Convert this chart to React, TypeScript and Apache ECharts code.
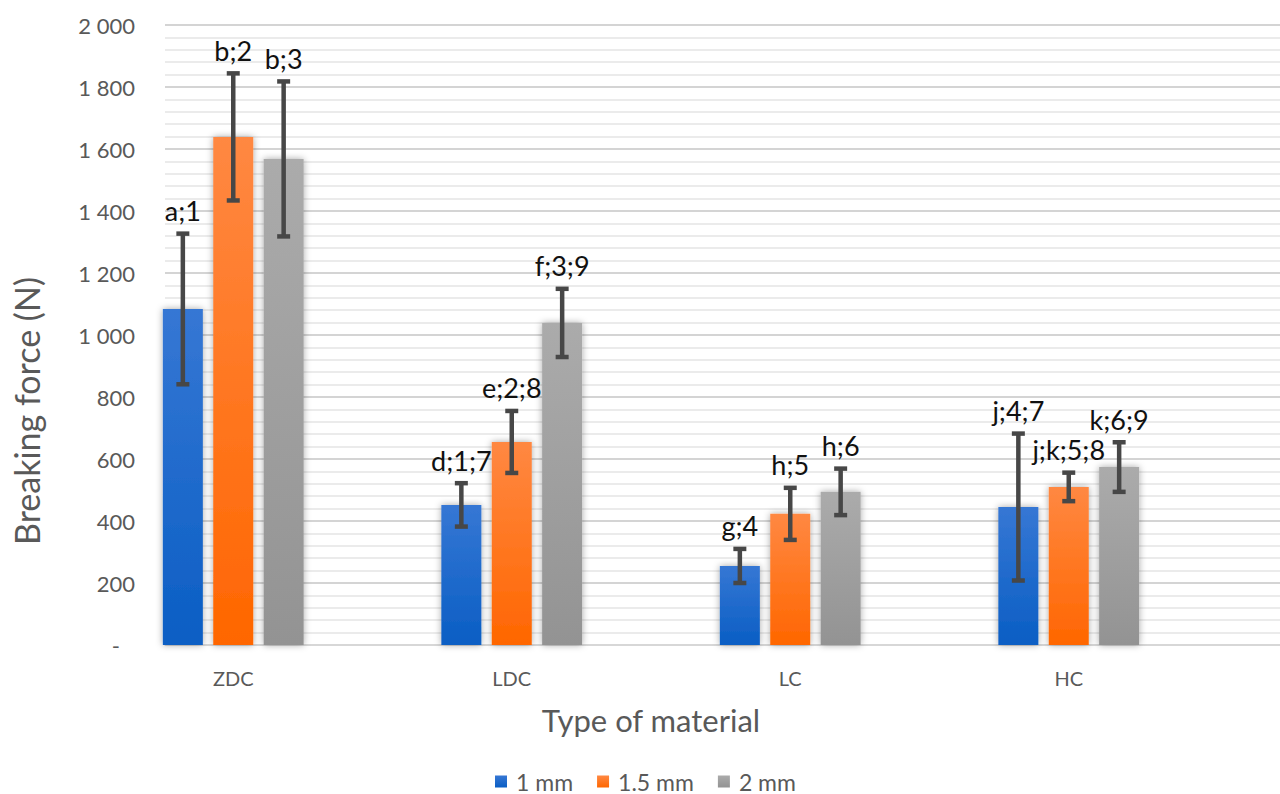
import React, { useEffect, useRef } from 'react';
import * as echarts from 'echarts';

const categories = ['ZDC', 'LDC', 'LC', 'HC'];
const seriesNames = ['1 mm', '1.5 mm', '2 mm'];
const mean1 = [1084, 452, 255, 445];
const err1 = [243, 70, 55, 237];
const lab1 = ['a;1', 'd;1;7', 'g;4', 'j;4;7'];
const mean15 = [1639, 655, 423, 510];
const err15 = [205, 100, 84, 46];
const lab15 = ['b;2', 'e;2;8', 'h;5', 'j;k;5;8'];
const mean2 = [1568, 1039, 494, 574];
const err2 = [250, 110, 75, 80];
const lab2 = ['b;3', 'f;3;9', 'h;6', 'k;6;9'];
const yMin = 0;
const yMax = 2000;
const yInterval = 200;
const yTitle = 'Breaking force (N)';
const xTitle = 'Type of material';

const FONT = 'Lato, "Open Sans", sans-serif';

const grad = (top: string, bottom: string) =>
  new echarts.graphic.LinearGradient(0, 0, 0, 1, [
    { offset: 0, color: top },
    { offset: 1, color: bottom },
  ]);

const BAR_W = 40;
const GAP = 10.4;

function errSeries(name: string, means: number[], errs: number[], labels: string[], offset: number) {
  return {
    type: 'custom',
    name: name + ' err',
    xAxisIndex: 1,
    yAxisIndex: 1,
    z: 10,
    silent: true,
    data: means.map((m, i) => [i, m, errs[i]]),
    renderItem: (params: any, api: any) => {
      const i = api.value(0);
      const m = api.value(1);
      const e = api.value(2);
      const lab = labels[i];
      const x = api.coord([i, m])[0] + offset;
      const yT = api.coord([i, m + e])[1];
      const yB = api.coord([i, m - e])[1];
      const st = { stroke: '#474747', lineWidth: 4.5 };
      return {
        type: 'group',
        children: [
          { type: 'line', shape: { x1: x, y1: yT, x2: x, y2: yB }, style: st },
          { type: 'line', shape: { x1: x - 6.5, y1: yT, x2: x + 6.5, y2: yT }, style: st },
          { type: 'line', shape: { x1: x - 6.5, y1: yB, x2: x + 6.5, y2: yB }, style: st },
          {
            type: 'text',
            style: {
              text: lab,
              x: x,
              y: yT - 23,
              align: 'center',
              verticalAlign: 'middle',
              fill: '#111',
              font: `27px ${FONT}`,
            },
          },
        ],
      };
    },
  };
}

export default function App() {
  const ref = useRef<HTMLDivElement>(null);
  useEffect(() => {
    if (!ref.current) return;
    const chart = echarts.init(ref.current, undefined, { renderer: 'svg' });
    const barBase = {
      type: 'bar',
      xAxisIndex: 1,
      yAxisIndex: 1,
      barWidth: BAR_W,
      barGap: (GAP / BAR_W) * 100 + '%',
    };
    const shadow = { shadowBlur: 7, shadowColor: 'rgba(0,0,0,0.35)' };
    chart.setOption({
      animation: false,
      backgroundColor: '#fff',
      grid: [
        { left: 165, right: 0, top: 25, height: 620 },
        { left: 94, width: 1114, top: 25, height: 620 },
      ],
      graphic: [
        {
          type: 'text',
          x: 26,
          y: 411,
          rotation: Math.PI / 2,
          style: {
            text: yTitle,
            align: 'center',
            verticalAlign: 'middle',
            fill: '#595959',
            font: `34px ${FONT}`,
          },
        },
      ],
      legend: {
        data: seriesNames,
        left: 490,
        top: 765,
        icon: 'rect',
        itemWidth: 12,
        itemHeight: 12,
        itemGap: 24,
        textStyle: { fontFamily: FONT, fontSize: 23, color: '#595959', padding: [0, 0, 0, 4] },
      },
      xAxis: [
        {
          type: 'category',
          gridIndex: 0,
          data: categories,
          axisLine: { show: true, lineStyle: { color: '#d9d9d9', width: 1.5 } },
          axisTick: { show: false },
          axisLabel: { show: false },
          splitLine: { show: false },
        },
        {
          type: 'category',
          gridIndex: 1,
          data: categories,
          axisLine: { show: false },
          axisTick: { show: false },
          axisLabel: { fontFamily: FONT, fontSize: 20, color: '#595959', margin: 23 },
          name: xTitle,
          nameLocation: 'middle',
          nameGap: 59,
          nameTextStyle: { fontFamily: FONT, fontSize: 31, color: '#595959' },
        },
      ],
      yAxis: [
        {
          type: 'value',
          gridIndex: 0,
          min: yMin,
          max: yMax,
          interval: yInterval,
          axisLine: { show: false },
          axisTick: { show: false },
          axisLabel: {
            fontFamily: FONT,
            fontSize: 22,
            color: '#595959',
            margin: 30,
            formatter: (v: number) =>
              v === 0 ? '{d|-}' : String(v).replace(/\B(?=(\d{3})+(?!\d))/g, ' '),
            rich: { d: { fontFamily: FONT, fontSize: 22, color: '#595959', padding: [0, 15, 0, 0] } },
          },
          splitLine: { show: true, lineStyle: { color: '#d4d4d4', width: 2 } },
          minorTick: { show: false, splitNumber: 5 },
          minorSplitLine: { show: true, lineStyle: { color: '#ebebeb', width: 2 } },
        },
        {
          type: 'value',
          gridIndex: 1,
          min: yMin,
          max: yMax,
          interval: yInterval,
          show: false,
          splitLine: { show: false },
        },
      ],
      series: [
        {
          ...barBase,
          name: seriesNames[0],
          data: mean1,
          itemStyle: { color: grad('#3677d4', '#0a5ec4'), ...shadow },
        },
        {
          ...barBase,
          name: seriesNames[1],
          data: mean15,
          itemStyle: { color: grad('#ff8842', '#ff6600'), ...shadow },
        },
        {
          ...barBase,
          name: seriesNames[2],
          data: mean2,
          itemStyle: { color: grad('#ababab', '#939393'), ...shadow },
        },
        errSeries(seriesNames[0], mean1, err1, lab1, -(BAR_W + GAP)),
        errSeries(seriesNames[1], mean15, err15, lab15, 0),
        errSeries(seriesNames[2], mean2, err2, lab2, BAR_W + GAP),
      ],
    });
    return () => chart.dispose();
  }, []);
  return <div ref={ref} style={{ position: 'fixed', left: 0, top: 0, width: 1280, height: 794 }} />;
}
